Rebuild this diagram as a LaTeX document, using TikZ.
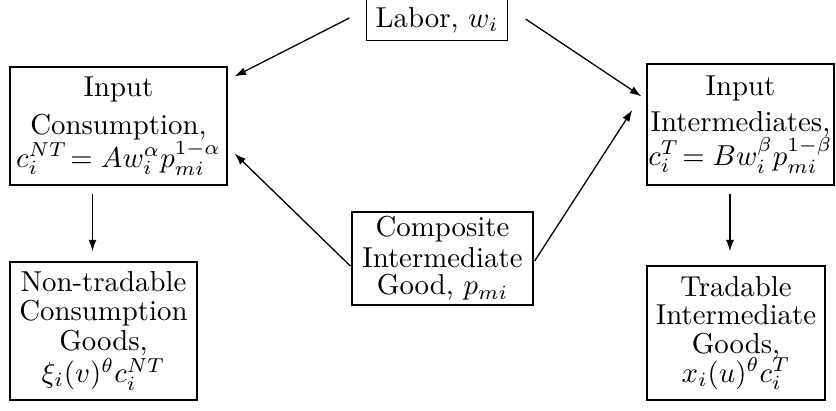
\documentclass[tikz,border=0pt]{standalone}
\usetikzlibrary{calc,arrows.meta}
\begin{document}
\begin{tikzpicture}[x=0.347pt,y=-0.347pt,
  box/.style={draw, line width=0.45pt, align=center, inner xsep=0.5pt, inner ysep=0pt},
  flow/.style={-{Latex[length=4pt,width=2.8pt]}, line width=0.45pt}]
\useasboundingbox (0,0) rectangle (836,410);

% nodes
\node[box, minimum width=48.9pt, minimum height=14.2pt] (labor) at (437,20) {Labor, $w_i$};

\node[box, minimum width=75.3pt, minimum height=40.9pt] (cons) at (118.5,126)
  {Input\\[1.2pt]Consumption,\\[-0.7pt]$c_i^{NT}\!=Aw_i^{\alpha}p_{mi}^{1-\alpha}$};

\node[box, minimum width=64.9pt, minimum height=42.0pt] (inter) at (740.5,124.5)
  {Input\\[0.5pt]Intermediates,\\[-0.2pt]$c_i^{T}\!=Bw_i^{\beta}p_{mi}^{1-\beta}$};

\node[box, minimum width=62.8pt, minimum height=32.3pt] (comp) at (442.5,258.5)
  {Composite\\[-1.4pt]Intermediate\\[-2.5pt]Good, $p_{mi}$};

\node[box, minimum width=64.9pt, minimum height=47.9pt] (nontr) at (103.5,331)
  {Non-tradable\\[-2.1pt]Consumption\\[-1.6pt]Goods,\\[-0.8pt]$\xi_i(v)^{\theta}c_i^{NT}$};

\node[box, minimum width=61.8pt, minimum height=46.5pt] (trad) at (736,333)
  {Tradable\\[-2.2pt]Intermediate\\[-1.8pt]Goods,\\[-2.1pt]$x_i(u)^{\theta}c_i^{T}$};

% connectors
\draw[flow] ($(labor.west)+(-16.5,-2)$) -- ($(cons.north east)+(7,10)$);
\draw[flow] ($(labor.east)+(17.5,-1)$) -- ($(inter.north west)+(-5,33)$);
\draw[flow] ($(comp.west)+(-1,7.5)$) -- ($(cons.south east)+(7,-32)$);
\draw[flow] ($(comp.east)+(1,2.5)$) -- ($(inter.west)+(-14,-14.5)$);
\draw[flow] ($(cons.south)+(-26,8)$) -- ($(nontr.north)+(-11,-10)$);
\draw[flow] ($(inter.south)+(-10.5,8)$) -- ($(trad.north)+(-6,-14)$);
\end{tikzpicture}
\end{document}
